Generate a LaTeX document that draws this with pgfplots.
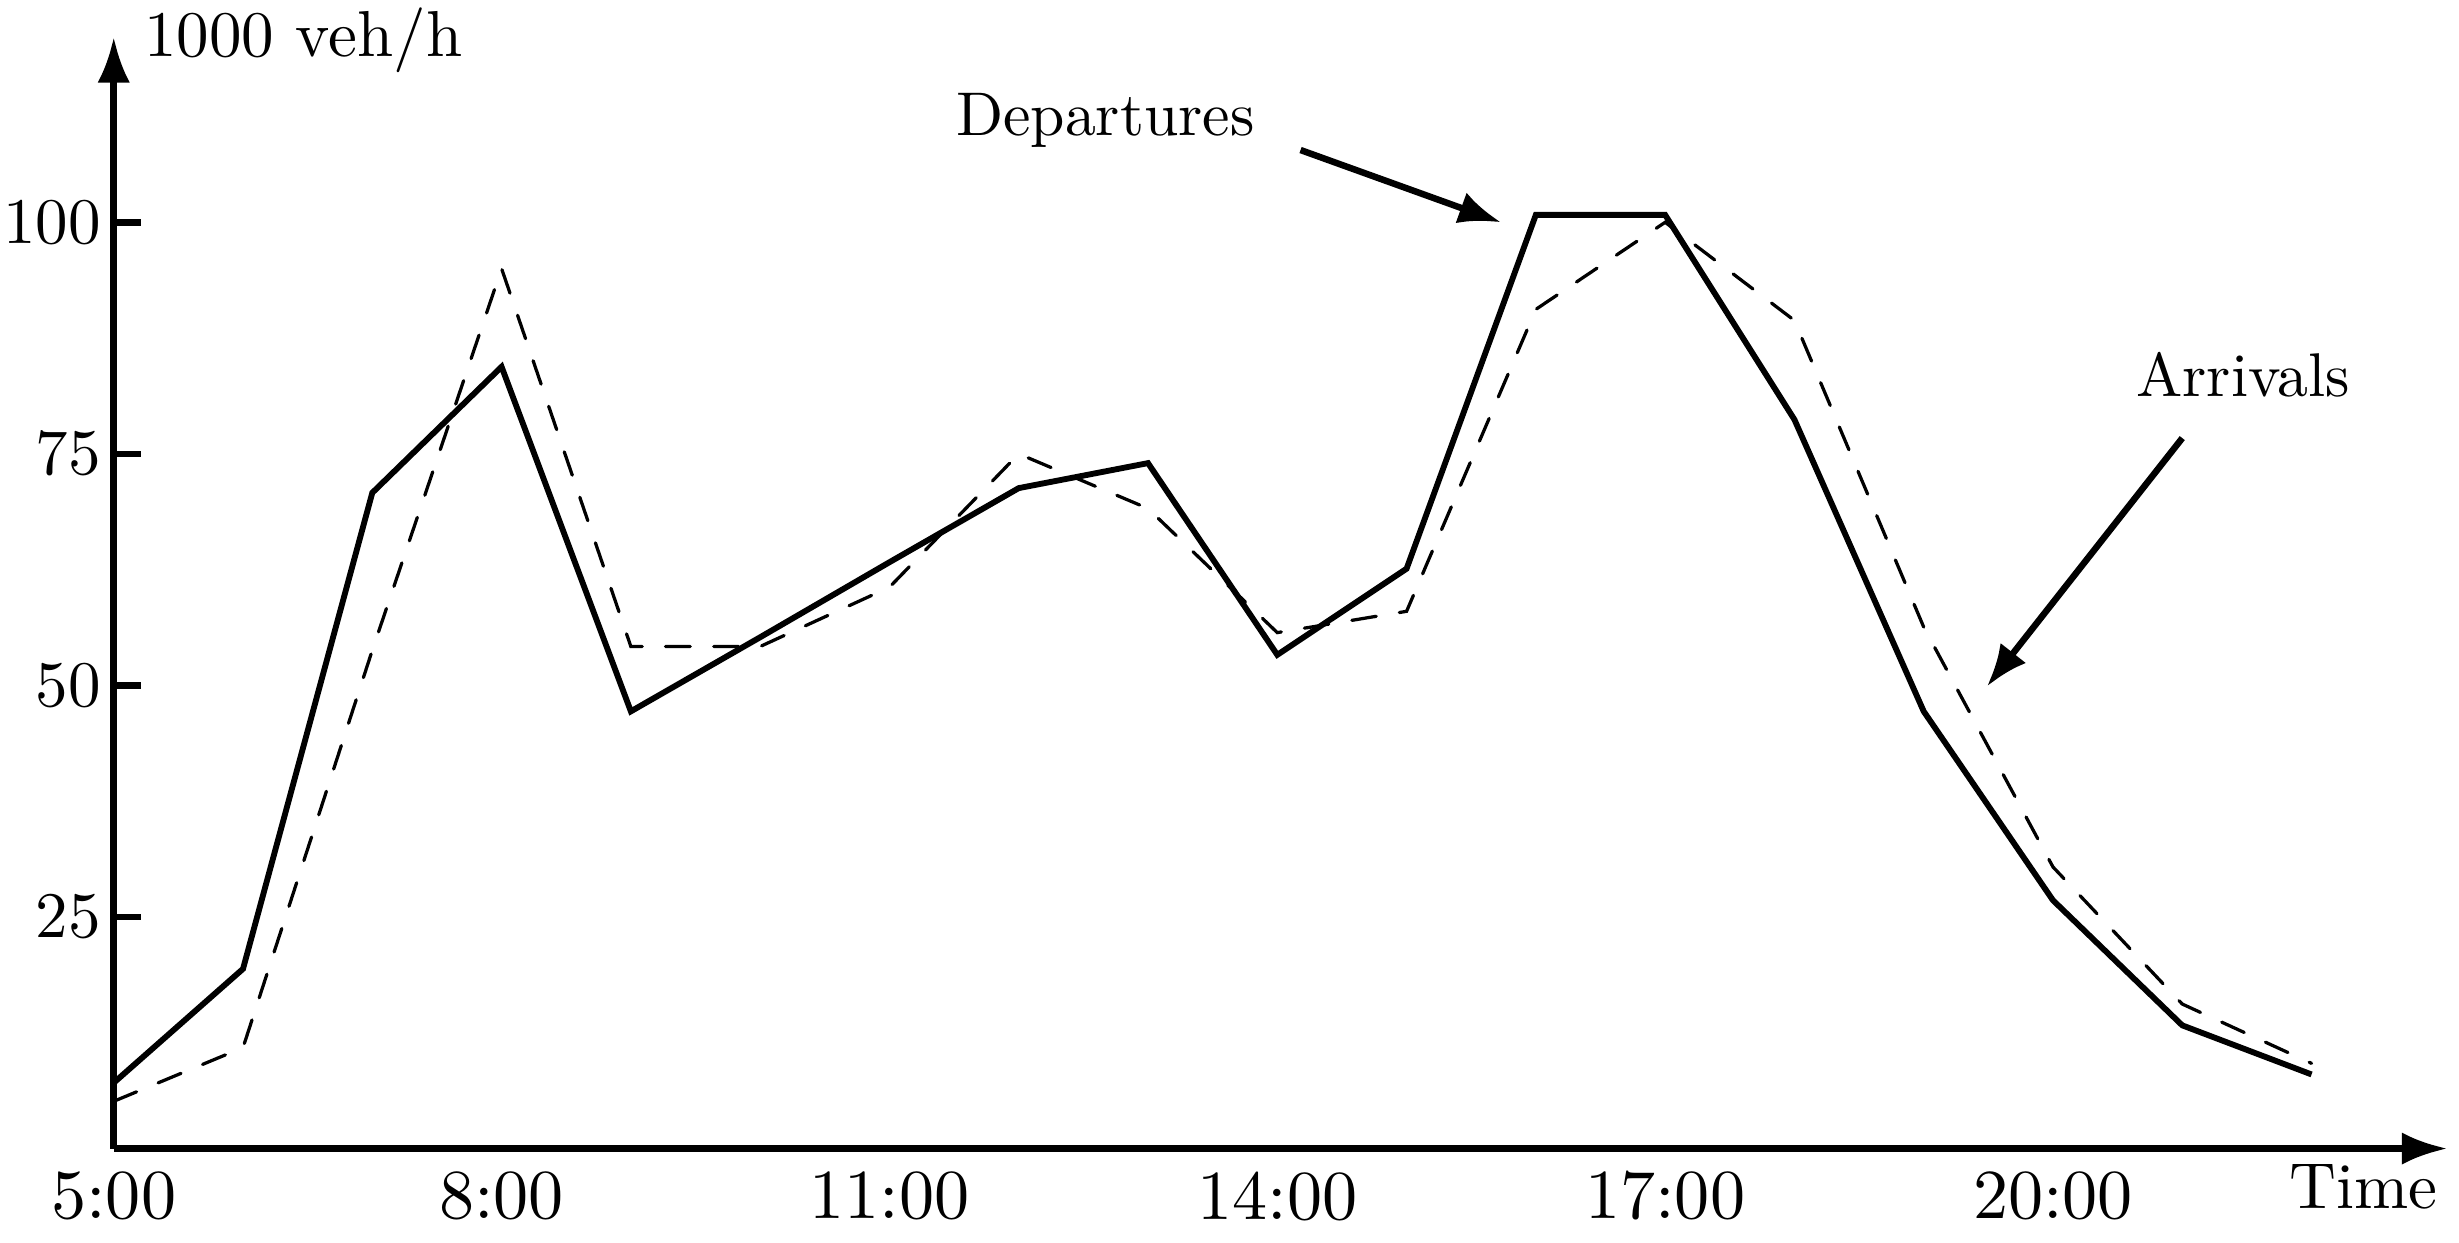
\documentclass[border=0pt]{standalone}
\usepackage{pgfplots}
\pgfplotsset{compat=1.18}
\usetikzlibrary{arrows.meta}

\begin{document}
\begin{tikzpicture}
\begin{axis}[
  scale only axis, width=359pt, height=171pt,
  xmin=5, xmax=23.05, ymin=0, ymax=120, enlargelimits=false,
  axis lines*=left, clip=false,
  axis line style={draw=none},
  xtick={5,8,11,14,17,20}, xticklabels={5:00,8:00,11:00,14:00,17:00,20:00},
  xticklabel style={font=\fontsize{10.8}{13}\selectfont},
  ytick={25,50,75,100},
  yticklabel style={inner xsep=0.5pt,xshift=-1.3pt},
  tick align=inside, major tick length=4.2pt,
  y tick style={line width=1pt,black},
  x tick style={draw=none},
]
% axes with arrow heads
\draw[line width=1pt,-{Latex[length=7pt,width=5pt]}] (rel axis cs:0,0) -- (rel axis cs:1,0);
\draw[line width=1pt,-{Latex[length=7pt,width=5pt]}] (rel axis cs:0,0) -- (rel axis cs:0,1);
% departures (solid)
\addplot[black,line width=0.9pt] coordinates {
  (5,7.1) (6,19.4) (7,70.8) (8,84.4) (9,47.2) (10,55.2) (11,63.3) (12,71.3)
  (13,74.0) (14,53.3) (15,62.6) (16,100.8) (17,100.8) (18,78.7) (19,47.2)
  (20,26.8) (21,13.3) (22,8.0)};
% arrivals (dashed)
\addplot[black,line width=0.5pt,line cap=round,dash pattern=on 3.8pt off 3.6pt] coordinates {
  (5,5.1) (6,10.9) (7,53.8) (8,95.0) (9,54.2) (10,54.2) (11,60.6) (12,75.0)
  (13,69.1) (14,55.7) (15,58.0) (16,90.6) (17,100.0) (18,89.4) (19,56.3)
  (20,30.4) (21,15.6) (22,9.2)};
\node[anchor=base west,inner sep=1.2pt,xshift=3.3pt,yshift=-3pt] at (rel axis cs:0,1) {1000 veh/h};
\node[anchor=base east,xshift=2pt,yshift=-9.2pt] at (rel axis cs:1,0) {Time};
\node[font=\fontsize{9.5}{11}\selectfont] at (axis cs:12.67,111) {Departures};
\node[font=\fontsize{9.5}{11}\selectfont] at (axis cs:21.47,83.5) {Arrivals};
\draw[line width=1pt,-{Latex[length=6.5pt,width=5pt]}] (axis cs:14.18,107.8) -- (axis cs:15.73,100.0);
\draw[line width=1pt,-{Latex[length=6.5pt,width=5pt]}] (axis cs:21.0,76.7) -- (axis cs:19.49,49.9);
\end{axis}
\end{tikzpicture}
\end{document}
